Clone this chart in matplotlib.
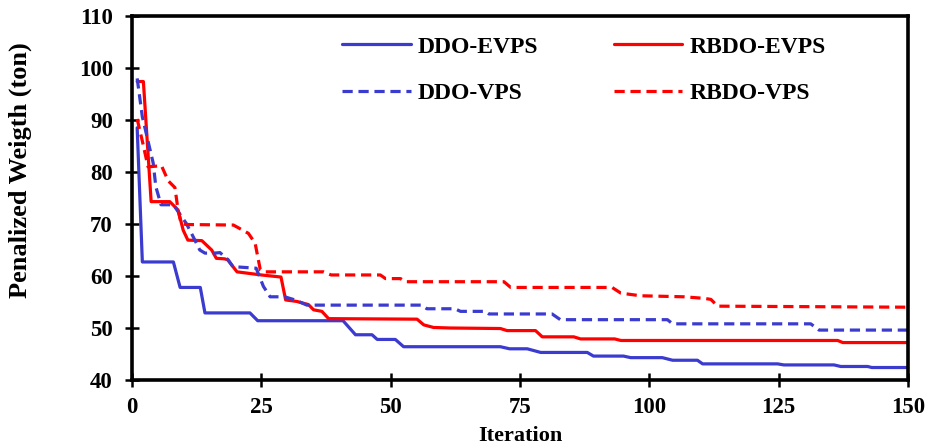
import matplotlib
matplotlib.use("Agg")
import matplotlib.pyplot as plt

# ---- data (breakpoints) ----
ddo_evps_x = [1, 2, 8, 9.3, 13.2, 14.1, 22.8, 24.3, 40.8, 43.2, 46.4, 47.4, 50.9, 52.5,
              71.2, 73, 76.4, 79, 88, 89.2, 95, 96.4, 102.5, 104.5, 109.3, 110.3,
              124.8, 126, 135.7, 137, 142.2, 143, 150]
ddo_evps_y = [88.5, 62.7, 62.7, 57.8, 57.8, 52.9, 52.9, 51.4, 51.4, 48.7, 48.7, 47.8, 47.8, 46.4,
              46.4, 46.0, 46.0, 45.3, 45.3, 44.6, 44.6, 44.3, 44.3, 43.8, 43.8, 43.1,
              43.1, 42.9, 42.9, 42.6, 42.6, 42.4, 42.4]

ddo_vps_x = [1, 2, 4.1, 4.6, 5.6, 8, 8.9, 10.5, 11.8, 13.1, 14.1, 16, 17, 18.6, 19.5, 24,
             25.4, 26.7, 29.5, 31.5, 33.8, 56, 57, 62.4, 63.5, 68.3, 69, 81.2, 82.8,
             103.5, 104.5, 131.2, 132.8, 150]
ddo_vps_y = [98, 90.6, 81.7, 77.2, 73.7, 73.7, 72.4, 70.1, 67.6, 65, 64.4, 64.4, 64.5, 63.1, 61.8, 61.5,
             58, 56.0, 56.0, 55.4, 54.4, 54.4, 53.7, 53.7, 53.2, 53.2, 52.7, 52.7, 51.6,
             51.6, 50.8, 50.8, 49.6, 49.6]

rbdo_evps_x = [1, 2.2, 3.7, 7.3, 8.9, 9.9, 10.8, 13.5, 15.4, 16.3, 17.9, 18.5, 20.3, 25, 28.8,
               29.7, 31.9, 34.1, 35.1, 36.7, 38, 55.1, 56.4, 58.3, 61.5, 71.2, 72.5, 78, 79.3,
               85.4, 86.7, 93.3, 94.5, 136.4, 137.4, 150]
rbdo_evps_y = [97.4, 97.4, 74.3, 74.3, 72.7, 68.8, 66.9, 66.8, 65.0, 63.4, 63.3, 63.1, 60.8, 60.2, 59.8,
               55.4, 55.1, 54.5, 53.5, 53.2, 51.8, 51.7, 50.6, 50.1, 50.0, 49.9, 49.5, 49.5, 48.3,
               48.3, 47.9, 47.9, 47.6, 47.6, 47.2, 47.2]

rbdo_vps_x = [1, 2.1, 3.1, 5.7, 7, 8.3, 8.9, 9.5, 10.5, 19.6, 22.5, 23.8, 24.8, 25.5, 37, 38.5,
              48, 49, 51.9, 52.8, 71.9, 73.2, 92.8, 94.5, 98.3, 106.7, 110.6, 111.9, 113.2, 150]
rbdo_vps_y = [90.2, 85.5, 81, 81.2, 78.3, 77.0, 72.7, 70.1, 69.9, 69.8, 68.2, 66.3, 61.2, 60.8, 60.8, 60.2,
              60.2, 59.5, 59.5, 58.9, 58.9, 57.8, 57.8, 56.7, 56.2, 56.0, 55.7, 55.5, 54.2, 54.0]

x_ticks = [0, 25, 50, 75, 100, 125, 150]
y_ticks = [40, 50, 60, 70, 80, 90, 100, 110]

blue = "#3B3BCF"
red = "#FF0000"

plt.rcParams['font.family'] = ['Liberation Serif', 'DejaVu Serif']
plt.rcParams['font.weight'] = 'bold'

fig = plt.figure(figsize=(9.3, 4.48), dpi=100)
ax = fig.add_axes([132/930, 1-380/448, (908-132)/930, (380-16)/448])

lw = 2.3
ax.plot(ddo_evps_x, ddo_evps_y, color=blue, lw=lw, label="DDO-EVPS", solid_capstyle='round')
ax.plot(rbdo_evps_x, rbdo_evps_y, color=red, lw=lw, label="RBDO-EVPS", solid_capstyle='round')
ax.plot(ddo_vps_x, ddo_vps_y, color=blue, lw=lw, ls=(0, (3.2, 1.8)), label="DDO-VPS")
ax.plot(rbdo_vps_x, rbdo_vps_y, color=red, lw=lw, ls=(0, (3.2, 1.8)), label="RBDO-VPS")

ax.set_xlim(0, 150)
ax.set_ylim(40, 110)
ax.set_xticks(x_ticks)
ax.set_yticks(y_ticks)
for s in ax.spines.values():
    s.set_linewidth(2.6)
    s.set_color('black')
ax.tick_params(direction='inout', length=9.5, width=1.8, labelsize=16.5)
ax.tick_params(axis='x', pad=7.5)
ax.tick_params(axis='y', pad=9)
for lab in ax.get_xticklabels() + ax.get_yticklabels():
    lab.set_fontweight('bold')

fig.text(520/930, 1-441/448, "Iteration", fontsize=16, fontweight='bold',
         ha='center', va='baseline')
fig.text(20/930, 1-170/448, "Penalized Weigth (ton)", fontsize=19, fontweight='bold',
         rotation=90, ha='center', va='center')

# legend order: row1 DDO-EVPS, RBDO-EVPS ; row2 DDO-VPS, RBDO-VPS
h, l = ax.get_legend_handles_labels()
order = [0, 2, 1, 3]
ax.legend([h[i] for i in order], [l[i] for i in order], ncol=2, frameon=False,
          loc='upper left', bbox_to_anchor=(0.2434, 1.003),
          handlelength=2.9, handletextpad=0.3, columnspacing=3.2, labelspacing=1.07,
          prop={'weight': 'bold', 'size': 17})

fig.savefig("out.png", dpi=100)
